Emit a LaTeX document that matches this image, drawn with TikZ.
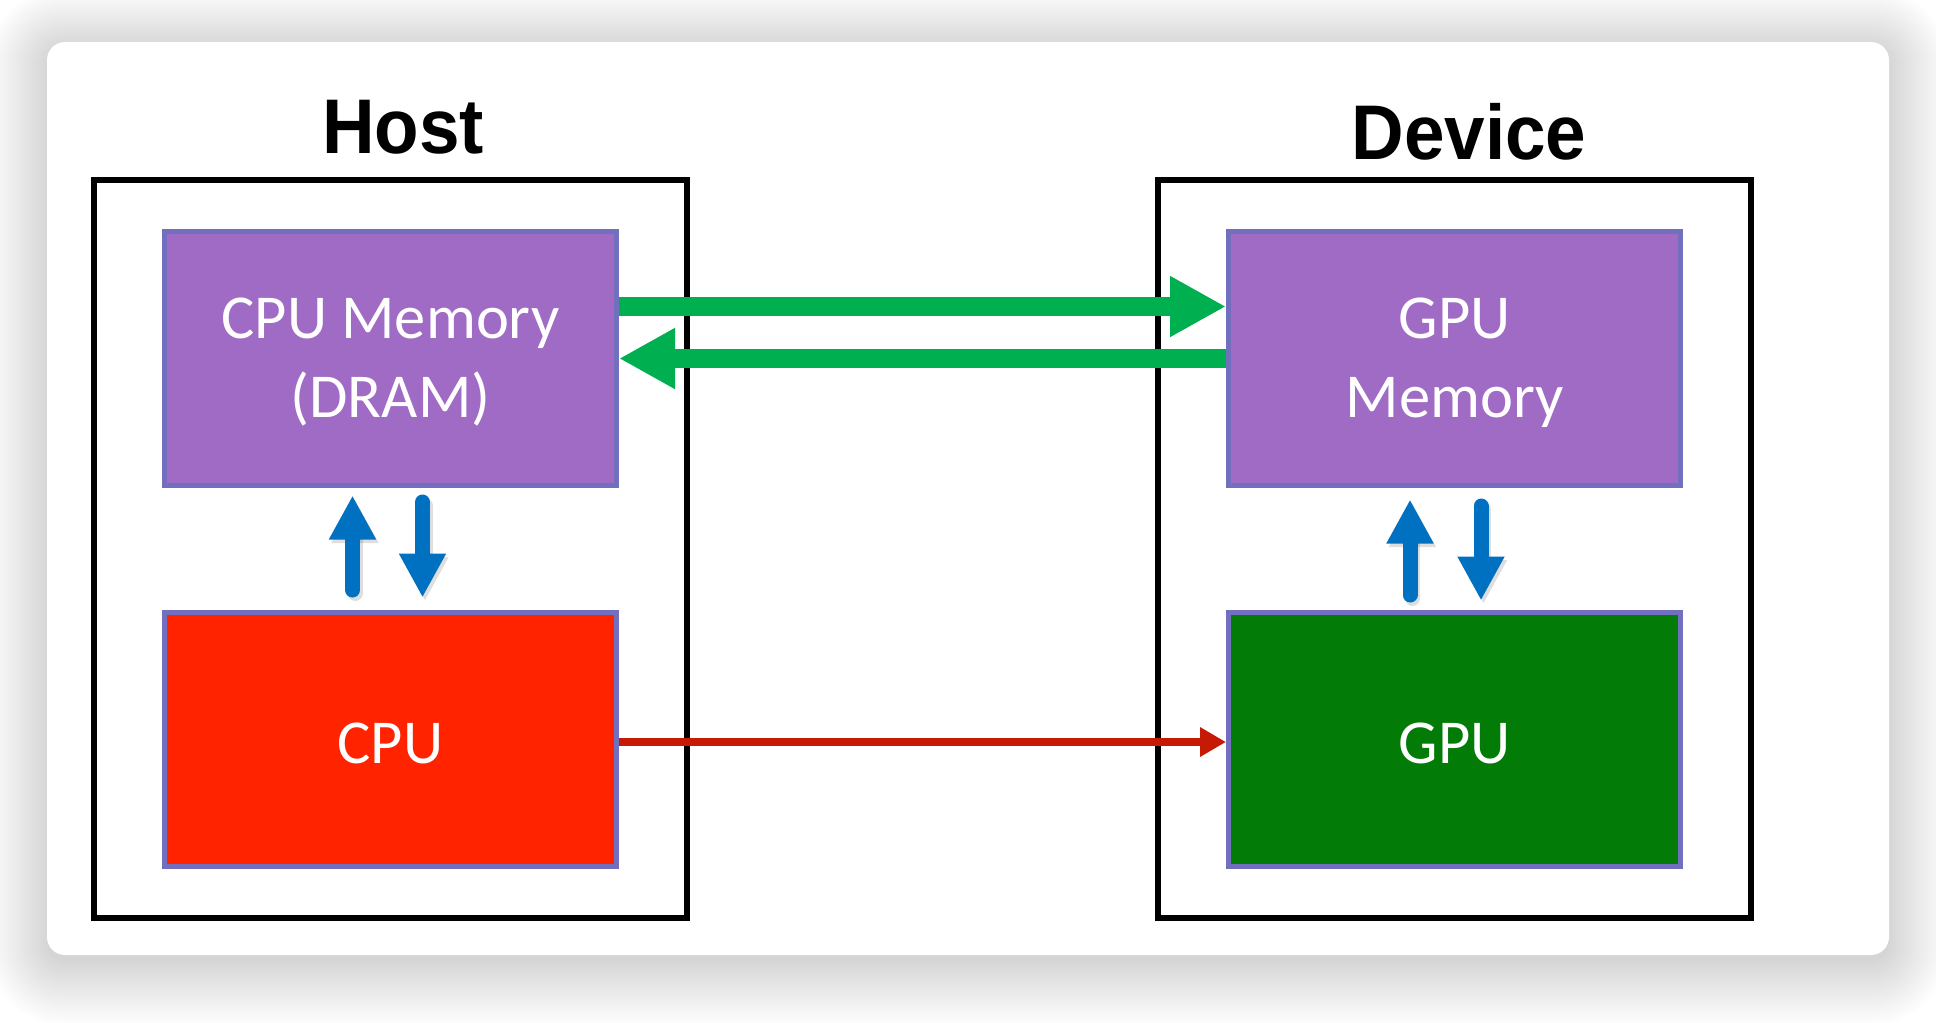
\documentclass[tikz,border=0pt]{standalone}
\usepackage{fontspec}
\setmainfont{Carlito}
\newfontfamily\titlefont{Liberation Sans}
\usetikzlibrary{arrows.meta,calc}
\definecolor{memfill}{HTML}{A06BC4}
\definecolor{unitborder}{HTML}{736FBF}
\definecolor{cpured}{HTML}{FF2300}
\definecolor{gpugreen}{HTML}{037B07}
\definecolor{busgreen}{HTML}{00B050}
\definecolor{linkblue}{HTML}{0070C0}
\definecolor{ctrlred}{HTML}{C41A06}
\begin{document}
\begin{tikzpicture}[x=0.4pt,y=-0.4pt,
  hostbox/.style={draw=black,line width=2.4pt,minimum width=237.2pt,minimum height=295.2pt,inner sep=0pt},
  unit/.style={draw=unitborder,line width=2pt,minimum width=180.8pt,minimum height=101.6pt,inner sep=0pt},
  unittext/.style={text=white,font=\fontsize{25}{31.6}\selectfont,align=center,inner sep=0pt,yshift=-1.6pt},
  title/.style={font=\titlefont\bfseries\fontsize{31}{36}\selectfont,anchor=base,inner sep=0pt},
  bus/.style={draw=busgreen,line width=7.6pt,-{Triangle[length=22.4pt,width=22.8pt]}},
  link/.style={draw=linkblue,line width=6pt,line cap=round,-{Triangle[length=17.6pt,width=17.6pt]}},
  linkshadow/.style={link,draw=black,fill=black,opacity=0.13,transform canvas={shift={(2.5,3.5)}}},
  ctrl/.style={draw=ctrlred,line width=3.2pt,-{Triangle[length=10.4pt,width=11.2pt]}}]
\useasboundingbox (0,0) rectangle (1936,1022);
\fill[white] (0,0) rectangle (1936,1022);
\foreach \i in {0,...,20}{
  \pgfmathsetmacro\rr{7.2+1.2*\i}
  \fill[black,opacity=0.009,rounded corners=\rr pt] ({47-3*\i},{48-3*\i}) rectangle ({1889+3*\i},{961+3.2*\i});
}
\fill[white,rounded corners=7.2pt] (47,42) rectangle (1889,955);
% frames
\node[hostbox] (host) at (390.5,549) {};
\node[hostbox] (device) at (1454.5,549) {};
\node[title] (hostlbl) at (403,153) {\scalebox{0.94}[1]{Host}};
\node[title] (devlbl) at (1469,159) {\scalebox{0.94}[1]{Device}};
% units
\node[unit,fill=memfill,label={[unittext]center:CPU Memory\\(DRAM)}] (cpumem) at (390.5,358.5) {};
\node[unit,fill=memfill,label={[unittext]center:GPU\\Memory}] (gpumem) at (1454.5,358.5) {};
\node[unit,fill=cpured,label={[unittext]center:CPU}] (cpu) at (390.5,739) {};
\node[unit,fill=gpugreen,label={[unittext]center:GPU}] (gpu) at (1454.5,739) {};
% memory transfers
\draw[bus] ($(cpumem.east)+(0,-52)$) -- ($(gpumem.west)+(0,-52)$);
\draw[bus] (gpumem.west) -- (cpumem.east);
% blue links (shadows first)
\draw[linkshadow] ($(cpu.north)+(-38,-19.5)$) -- ($(cpumem.south)+(-38,7.5)$);
\draw[linkshadow] ($(cpumem.south)+(32,14)$) -- ($(cpu.north)+(32,-12)$);
\draw[linkshadow] ($(gpu.north)+(-44.5,-14.5)$) -- ($(gpumem.south)+(-44.5,11.5)$);
\draw[linkshadow] ($(gpumem.south)+(26.5,18)$) -- ($(gpu.north)+(26.5,-9)$);
\draw[link] ($(cpu.north)+(-38,-19.5)$) -- ($(cpumem.south)+(-38,7.5)$);
\draw[link] ($(cpumem.south)+(32,14)$) -- ($(cpu.north)+(32,-12)$);
\draw[link] ($(gpu.north)+(-44.5,-14.5)$) -- ($(gpumem.south)+(-44.5,11.5)$);
\draw[link] ($(gpumem.south)+(26.5,18)$) -- ($(gpu.north)+(26.5,-9)$);
% control
\draw[ctrl] ($(cpu.east)+(0,3)$) -- ($(gpu.west)+(0,3)$);
\end{tikzpicture}
\end{document}
